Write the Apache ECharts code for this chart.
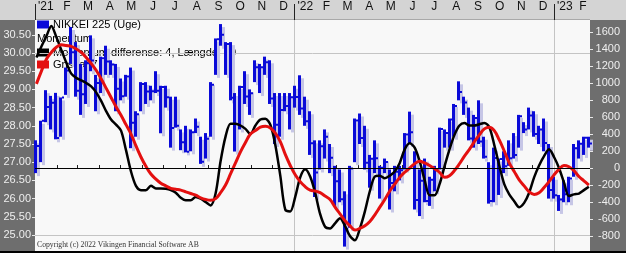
<!DOCTYPE html>
<html><head><meta charset="utf-8">
<script src="https://cdn.jsdelivr.net/npm/echarts@6/dist/echarts.min.js"></script>
<style>html,body{margin:0;padding:0;background:#6e6e6e;overflow:hidden}#c{width:626px;height:253px}</style>
</head><body><div id="c"></div>
<script>
// ---- data ----
const weekDates = [
'2021-01-03','2021-01-10','2021-01-17','2021-01-24','2021-01-31','2021-02-07','2021-02-14','2021-02-21','2021-02-28',
'2021-03-07','2021-03-14','2021-03-21','2021-03-28','2021-04-04','2021-04-11','2021-04-18','2021-04-25',
'2021-05-02','2021-05-09','2021-05-16','2021-05-23','2021-05-30','2021-06-06','2021-06-13','2021-06-20','2021-06-27',
'2021-07-04','2021-07-11','2021-07-18','2021-07-25','2021-08-01','2021-08-08','2021-08-15','2021-08-22','2021-08-29',
'2021-09-05','2021-09-12','2021-09-19','2021-09-26','2021-10-03','2021-10-10','2021-10-17','2021-10-24','2021-10-31',
'2021-11-07','2021-11-14','2021-11-21','2021-11-28','2021-12-05','2021-12-12','2021-12-19','2021-12-26',
'2022-01-02','2022-01-09','2022-01-16','2022-01-23','2022-01-30','2022-02-06','2022-02-13','2022-02-20','2022-02-27',
'2022-03-06','2022-03-13','2022-03-20','2022-03-27','2022-04-03','2022-04-10','2022-04-17','2022-04-24',
'2022-05-01','2022-05-08','2022-05-15','2022-05-22','2022-05-29','2022-06-05','2022-06-12','2022-06-19','2022-06-26',
'2022-07-03','2022-07-10','2022-07-17','2022-07-24','2022-07-31','2022-08-07','2022-08-14','2022-08-21','2022-08-28',
'2022-09-04','2022-09-11','2022-09-18','2022-09-25','2022-10-02','2022-10-09','2022-10-16','2022-10-23','2022-10-30',
'2022-11-06','2022-11-13','2022-11-20','2022-11-27','2022-12-04','2022-12-11','2022-12-18','2022-12-25',
'2023-01-01','2023-01-08','2023-01-15','2023-01-22','2023-01-29','2023-02-05','2023-02-12','2023-02-19'];

const nikkeiHigh = [27602,28139,28979,28822,28905,28779,29600,30714,30300,29700,
 29800,30485,29400,29900,30200,29800,29700,29300,29400,29600,
 28400,29200,29200,29100,29500,29100,29100,28800,28800,27900,
 28000,27900,28200,27700,27800,29200,30400,30795,30300,30300,
 28900,29100,29500,29000,29800,29700,29900,29800,28900,28900,
 28900,28900,29100,29388,28800,28400,27600,27600,27900,27500,
 26900,26800,26200,26900,28200,28338,28000,27200,27600,26900,
 27100,26800,26900,26900,27800,28389,27300,26800,27100,26600,
 26900,27950,27900,28200,28600,29222,28800,28500,28300,28700,
 27700,27000,27400,27100,27300,27600,27800,28300,28100,28500,
 28400,28000,28200,27500,26600,26100,26500,26600,27500,27600,
 27700,27700];
const nikkeiLow = [26700,27002,28100,27900,27629,27700,28850,29700,28800,28300,
 28600,29500,28400,28900,29400,29400,28400,28700,28800,27385,
 27700,28400,28600,28700,28900,27795,28500,27400,27950,27330,
 27270,27300,27800,26954,27100,27700,29400,30200,29400,28700,
 27293,27900,28600,28300,29200,28900,29400,28600,27500,27700,
 28400,27900,28500,28300,28000,27200,26044,26800,27100,26700,
 25775,25900,24681,25200,27000,27500,26800,26300,26700,26000,
 26700,25700,26200,26500,26800,27500,25700,25520,25900,25800,
 26200,26800,27400,27400,27700,28700,28300,27600,27400,27500,
 27100,25862,25900,26100,26700,26900,27100,27400,27800,27900,
 27700,27500,27300,26000,26000,25661,25900,25900,26600,27100,
 27200,27400];
const nikkeiClose = [27444,28139,28519,28631,27663,28779,29520,30018,28966,28864,
 29717,29792,29176,29854,29768,29683,29020,28812,29357,28084,
 28317,29149,28941,28948,28964,29066,28783,27940,28003,27548,
 27284,27820,27977,27013,27641,29128,30381,30500,30249,28771,
 28048,29068,28804,28892,29611,29609,29745,28751,28029,28437,
 28545,28782,28791,28478,28124,27522,26717,27440,27696,27122,
 26476,25985,25162,26827,28149,27665,26985,27093,27105,26847,
 27003,26427,26739,26781,27761,27824,25963,26491,25935,26517,
 26788,27914,27801,28176,28547,28930,28641,27650,28214,27567,
 27153,25937,27116,27090,26890,27105,27199,28263,27899,28283,
 27777,27901,27527,26235,26095,25974,26120,26554,27383,27509,
 27670,27513];

const momentumDiff = [1300,1430,1550,1670,1540,1390,1240,1110,1060,1030,
 1000,960,890,790,670,570,510,440,210,-40,
 -210,-260,-260,-210,-240,-240,-245,-260,-290,-350,
 -380,-380,-340,-360,-400,-440,-300,80,370,520,
 520,500,460,400,500,570,580,510,270,-90,
 -490,-510,-340,-110,-15,-100,-290,-540,-690,-710,
 -650,-590,-680,-800,-850,-710,-510,-270,-100,-90,
 -120,-90,-40,60,220,290,240,80,-140,-320,
 -320,-190,20,220,390,500,530,500,500,515,
 530,480,270,30,-190,-310,-390,-460,-410,-290,
 -110,30,140,220,130,0,-170,-330,-310,-300,
 -260,-220];
const momentumAvg = [990,1140,1280,1360,1420,1450,1440,1430,1400,1360,
 1300,1230,1150,1050,940,830,720,620,510,400,
 260,130,20,-70,-130,-180,-210,-240,-250,-260,
 -280,-300,-320,-350,-370,-380,-360,-290,-200,-70,
 60,190,300,400,440,480,490,470,410,310,
 160,30,-80,-160,-220,-260,-270,-290,-330,-370,
 -460,-540,-620,-680,-730,-710,-680,-630,-550,-460,
 -370,-270,-190,-110,-50,0,50,80,60,30,
 -10,-50,-110,-90,-30,50,140,220,310,390,
 460,480,440,330,200,60,-40,-140,-210,-280,
 -310,-290,-230,-160,-80,-15,30,15,-30,-100,
 -150,-200];

const priceTicks = [25000,25500,26000,26500,27000,27500,28000,28500,29000,29500,30000,30500];
const momentumTicks = [-800,-600,-400,-200,0,200,400,600,800,1000,1200,1400,1600];
const priceGridLines = [25000,30000];
const monthLetters = ['J','F','M','A','M','J','J','A','S','O','N','D'];
const yearLabels = ["'21","'22","'23"];
const years = [2021,2022,2023];
const seriesNames = ['NIKKEI 225 (Uge)','Momentum','Momentum differense: 4, Længde: 10','Gns. af 7'];

// ---- build ----
const DAY = 86400000;
const xMin = Date.UTC(2021,0,1);
const xMax = xMin + 780.6*DAY;
const xs = weekDates.map(d => Date.parse(d));
const barData = xs.map((x,i) => [x, nikkeiHigh[i], nikkeiLow[i], nikkeiClose[i]]);
const momData = xs.map((x,i) => [x, momentumDiff[i]]);
const avgData = xs.map((x,i) => [x, momentumAvg[i]]);

const yearStarts = years.map(y => Date.UTC(y,0,1));
const monthTicks = [], monthLabelPos = [];
years.forEach(y => { for (let m=0;m<12;m++){
  const s = Date.UTC(y,m,1), e = Date.UTC(y,m+1,1);
  if (s >= xMax) continue;
  if (m !== 0) { monthTicks.push(s); monthLabelPos.push((s + Math.min(e, xMax))/2); }
}});

const font = 'Liberation Sans, Arial, sans-serif';
const blue = '#0a0ad8';

const chart = echarts.init(document.getElementById('c'), null, {renderer:'canvas'});
chart.setOption({
  animation:false,
  backgroundColor:'#6e6e6e',
  graphic:[
    {type:'rect', z:-1, shape:{x:0,y:0,width:626,height:20}, style:{fill:'#d4d4d4'}},
    {type:'rect', z:-1, shape:{x:35,y:19,width:555,height:1}, style:{fill:'#a8a8a8'}},
    {type:'rect', z:50, shape:{x:0,y:251,width:626,height:2}, style:{fill:'#000'}}
  ],
  title:{text:'Copyright (c) 2022 Vikingen Financial Software AB', left:37, top:241, padding:0,
    textStyle:{fontFamily:'Liberation Serif, Times New Roman, serif', fontSize:7.7, fontWeight:'normal', color:'#333'}},
  grid:{left:35, right:36, top:20, bottom:2, show:true, backgroundColor:'#f8f8f8', borderWidth:0},
  legend:[
    {data:[{name:seriesNames[0], icon:'rect'}], left:37, top:19, padding:0, itemWidth:12, itemHeight:8, selectedMode:false, z:1,
      textStyle:{fontFamily:font, fontSize:11, color:'#000', padding:[0,0,0,-1]}},
    {data:[{name:seriesNames[1], icon:'none'}], left:32, top:33, padding:0, itemWidth:0, itemHeight:8, selectedMode:false, z:1,
      textStyle:{fontFamily:font, fontSize:11, color:'#000'}},
    {data:[{name:seriesNames[2], icon:'rect'},{name:seriesNames[3], icon:'rect'}], orient:'vertical', left:37, top:47, padding:0, itemGap:1,
      itemWidth:12, itemHeight:8, selectedMode:false, z:1,
      textStyle:{fontFamily:font, fontSize:11, color:'#000', padding:[0,0,0,-1]}}
  ],
  xAxis:[
    {type:'value', position:'top', min:xMin, max:xMax,
      axisLine:{show:false}, splitLine:{show:false},
      axisTick:{show:true, customValues:monthTicks, length:3, lineStyle:{color:'#222'}},
      axisLabel:{show:true, customValues:monthLabelPos, margin:7, fontFamily:font, fontSize:12, color:'#111',
        formatter:v => monthLetters[new Date(v).getUTCMonth()]}},
    {type:'value', position:'top', min:xMin, max:xMax,
      axisLine:{show:false}, splitLine:{show:false},
      axisTick:{show:true, customValues:yearStarts, length:16, lineStyle:{color:'#222'}},
      axisLabel:{show:true, customValues:yearStarts, margin:7, align:'left', padding:[0,0,0,3], fontFamily:font, fontSize:12, color:'#111',
        formatter:v => yearLabels[years.indexOf(new Date(v).getUTCFullYear())]}}
  ],
  yAxis:[
    {type:'value', position:'left', min:24560, max:30907, splitLine:{show:false}, axisLine:{show:false},
      axisTick:{show:true, customValues:priceTicks, length:3, lineStyle:{color:'#e8e8e8'}},
      axisLabel:{customValues:priceTicks, margin:4, fontFamily:font, fontSize:11, color:'#eeeeee',
        formatter:v => (v/1000).toFixed(2)}},
    {type:'value', position:'right', min:-976, max:1741, splitLine:{show:false}, axisLine:{show:false},
      axisTick:{show:true, customValues:momentumTicks, length:3, lineStyle:{color:'#e8e8e8'}},
      axisLabel:{customValues:momentumTicks, margin:30, align:'right', fontFamily:font, fontSize:11, color:'#eeeeee',
        formatter:v => String(v)}}
  ],
  series:[
    {name:seriesNames[0], type:'custom', xAxisIndex:0, yAxisIndex:0, z:2, itemStyle:{color:blue},
      data:barData, encode:{x:0, y:[1,2,3]},
      renderItem:(params, api) => {
        const x = api.value(0);
        const pH = api.coord([x, api.value(1)]);
        const pL = api.coord([x, api.value(2)]);
        const pC = api.coord([x, api.value(3)]);
        const h = Math.max(1, pL[1]-pH[1]);
        return {type:'group', children:[
          {type:'rect', shape:{x:Math.round(pH[0])+1, y:pH[1]+3, width:3, height:h}, style:{fill:'#c6c6e6'}},
          {type:'rect', shape:{x:Math.round(pH[0])-2, y:pH[1], width:3, height:h}, style:{fill:blue}},
          {type:'rect', shape:{x:Math.round(pH[0])+1, y:pC[1]-1, width:2, height:2}, style:{fill:blue}}
        ]};
      },
      markLine:{silent:true, symbol:'none', label:{show:false}, z:1,
        lineStyle:{color:'#c4c4c4', width:1, type:'solid'},
        data:priceGridLines.map(v => ({yAxis:v})).concat(yearStarts.slice(1).map(t => ({xAxis:t})))}},
    {name:seriesNames[1], type:'line', xAxisIndex:0, yAxisIndex:1, data:[], itemStyle:{color:'#000'}},
    {name:seriesNames[2], type:'line', xAxisIndex:0, yAxisIndex:1, z:3, data:momData, showSymbol:false, smooth:0.3,
      itemStyle:{color:'#000'}, lineStyle:{color:'#000', width:2.5},
      markLine:{silent:true, symbol:'none', label:{show:false}, lineStyle:{color:'#000', width:1, type:'solid'}, data:[{yAxis:0}]}},
    {name:seriesNames[3], type:'line', xAxisIndex:0, yAxisIndex:1, z:4, data:avgData, showSymbol:false, smooth:0.4,
      itemStyle:{color:'#e41010'}, lineStyle:{color:'#e41010', width:3}}
  ]
});
</script>
</body></html>
